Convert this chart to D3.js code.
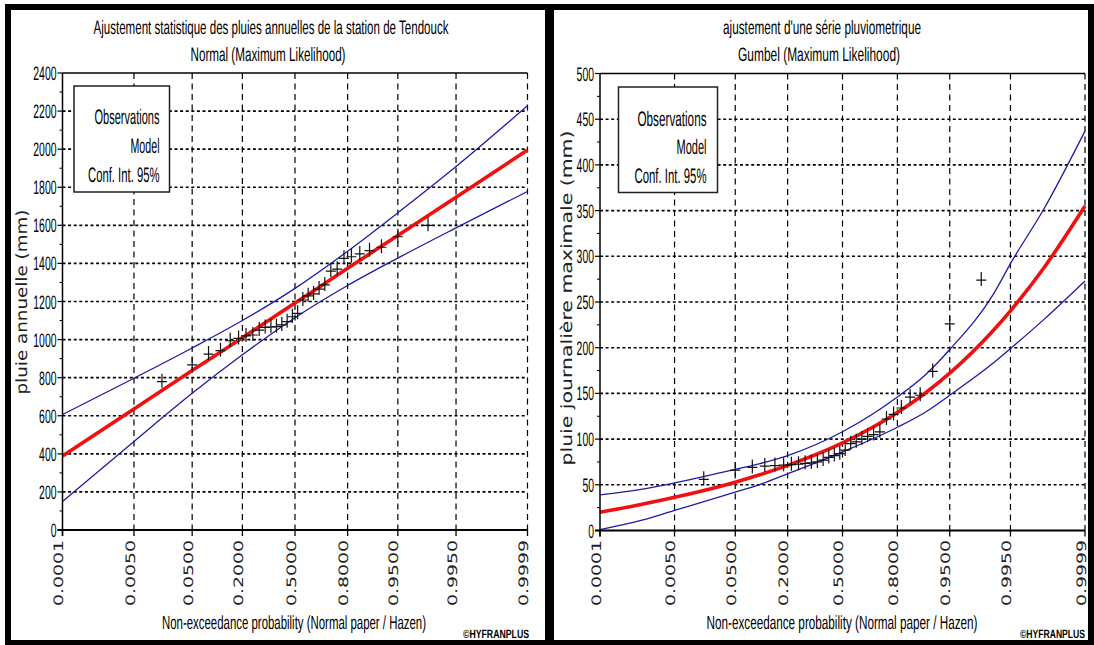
<!DOCTYPE html>
<html>
<head>
<meta charset="utf-8">
<script src="https://cdn.jsdelivr.net/npm/d3@7"></script>
<style>
  body { margin: 0; background: #fff; }
  svg { display: block; }
  text { text-rendering: geometricPrecision; }
</style>
</head>
<body>
<svg id="chart" width="1094" height="645"></svg>
<script>
// ---- Probability paper (shared by both charts) ----
const probTicks = [0.0001, 0.005, 0.05, 0.2, 0.5, 0.8, 0.95, 0.995, 0.9999];
const probTickLabels = ["0.0001", "0.0050", "0.0500", "0.2000", "0.5000", "0.8000", "0.9500", "0.9950", "0.9999"];

// ---- Left chart: annual rainfall, Normal fit ----
const annualTitle = ["Ajustement statistique des pluies annuelles de la station de Tendouck", "Normal (Maximum Likelihood)"];
const annualYLabel = "pluie annuelle (mm)";
const annualYTicks = [0, 200, 400, 600, 800, 1000, 1200, 1400, 1600, 1800, 2000, 2200, 2400];
// sorted observations (mm)
const annualObs = [779, 867, 924, 942, 994, 1006, 1019, 1024, 1050, 1064,
                   1066, 1068, 1077, 1094, 1120, 1138, 1208, 1230, 1240, 1265,
                   1287, 1360, 1370, 1427, 1435, 1450, 1467, 1485, 1540, 1600];
// model and 95% bounds at each probability tick
const annualModel = [389, 636, 837, 1010, 1192, 1374, 1547, 1748, 1995];
const annualUpper = [606, 797, 956, 1100, 1269, 1464, 1666, 1909, 2228];
const annualLower = [150, 465, 718, 920, 1115, 1284, 1428, 1587, 1778];

// ---- Right chart: maximum daily rainfall, Gumbel fit ----
const dailyTitle = ["ajustement d'une série pluviometrique", "Gumbel (Maximum Likelihood)"];
const dailyYLabel = "pluie journalière maximale (mm)";
const dailyYTicks = [0, 50, 100, 150, 200, 250, 300, 350, 400, 450, 500];
const dailyObs = [56, 66, 69, 70.5, 71, 71.5, 72, 72.5, 73.5, 74,
                  75, 77, 80, 82, 84, 88, 95, 97, 100, 103,
                  105, 108, 122, 127, 134, 146, 148, 174, 226, 274];
const dailyCurveProbs = [0.0001, 0.001, 0.005, 0.05, 0.1, 0.2, 0.5, 0.8, 0.9, 0.95, 0.99, 0.995, 0.999, 0.9999];
const dailyModel = [20, 28.5, 36.3, 52.9, 60.7, 71.2, 95.8, 129.1, 151, 172.1, 219.9, 240.3, 287.5, 355];
const dailyUpper = [39, 45, 52, 67, 73, 82, 108, 146, 171, 198, 260, 292, 352, 437];
const dailyLower = [1, 11, 22, 42, 50, 62, 86, 113, 130, 148, 184, 199, 231, 273];

const legendLines = ["Observations", "Model", "Conf. Int. 95%"];
const xTitle = "Non-exceedance probability (Normal paper / Hazen)";
const credit = "©HYFRANPLUS";

// Standard normal quantile (Acklam's rational approximation) for the Normal paper axis
function normInv(p) {
  const a = [-3.969683028665376e+01, 2.209460984245205e+02, -2.759285104469687e+02, 1.383577518672690e+02, -3.066479806614716e+01, 2.506628277459239e+00];
  const b = [-5.447609879822406e+01, 1.615858368580409e+02, -1.556989798598866e+02, 6.680131188771972e+01, -1.328068155288572e+01];
  const c = [-7.784894002430293e-03, -3.223964580411365e-01, -2.400758277161838e+00, -2.549732539343734e+00, 4.374664141464968e+00, 2.938163982698783e+00];
  const d = [7.784695709041462e-03, 3.224671290700398e-01, 2.445134137142996e+00, 3.754408661907416e+00];
  const pl = 0.02425, ph = 1 - pl;
  let q, r;
  if (p < pl) {
    q = Math.sqrt(-2 * Math.log(p));
    return (((((c[0]*q+c[1])*q+c[2])*q+c[3])*q+c[4])*q+c[5]) / ((((d[0]*q+d[1])*q+d[2])*q+d[3])*q+1);
  }
  if (p <= ph) {
    q = p - 0.5; r = q * q;
    return (((((a[0]*r+a[1])*r+a[2])*r+a[3])*r+a[4])*r+a[5])*q / (((((b[0]*r+b[1])*r+b[2])*r+b[3])*r+b[4])*r+1);
  }
  q = Math.sqrt(-2 * Math.log(1 - p));
  return -(((((c[0]*q+c[1])*q+c[2])*q+c[3])*q+c[4])*q+c[5]) / ((((d[0]*q+d[1])*q+d[2])*q+d[3])*q+1);
}

const svg = d3.select("#chart");
const RED = "#f01010", BLUE = "#1c1ca8";
const NARROW = "'Liberation Sans', Arial, sans-serif";
const WIDE = "'DejaVu Sans', Verdana, sans-serif";

// Outer frames
svg.append("rect").attr("x", 0).attr("y", 0).attr("width", 1094).attr("height", 645).attr("fill", "#fff");
const frame = [[5, 4, 1089, 6], [5, 4, 6, 641], [545, 4, 9, 641], [1088, 4, 6, 641], [5, 640, 1089, 5]];
svg.selectAll("rect.frame").data(frame).join("rect").attr("class", "frame")
  .attr("x", d => d[0]).attr("y", d => d[1]).attr("width", d => d[2]).attr("height", d => d[3]).attr("fill", "#000");

// Text squeezed horizontally to a target width (condensed look)
function fitText(g, txt, x, y, o) {
  const t = g.append("text").attr("x", 0).attr("y", 0).text(txt)
    .attr("font-family", o.family || NARROW).attr("font-size", o.size)
    .attr("text-anchor", o.anchor || "middle").attr("fill", o.fill || "#000");
  if (o.weight) t.attr("font-weight", o.weight);
  if (o.dy) t.attr("dy", o.dy);
  const natural = t.node().getComputedTextLength() || 1;
  const sx = o.len ? o.len / natural : 1;
  const rot = o.rotate ? ` rotate(${o.rotate})` : "";
  t.attr("transform", `translate(${x},${y})${rot} scale(${sx},1)`);
  return t;
}

function drawPanel(cfg) {
  const g = svg.append("g");
  const zx = p => normInv(p);
  const x = d3.scaleLinear().domain([zx(probTicks[0]), zx(probTicks[probTicks.length - 1])]).range([cfg.x0, cfg.x1]);
  const y = d3.scaleLinear().domain([0, cfg.yMax]).range([cfg.yBottom, cfg.yTop]);
  const px = p => x(zx(p));

  // titles
  fitText(g, cfg.title[0], cfg.t1.cx, 34, { size: 19.5, len: cfg.t1.w });
  fitText(g, cfg.title[1], cfg.t2.cx, 61, { size: 19.5, len: cfg.t2.w });

  // horizontal dotted grid
  g.append("g").selectAll("line").data(cfg.yTicks.slice(1, -1)).join("line")
    .attr("x1", cfg.x0).attr("x2", cfg.x1).attr("y1", d => y(d)).attr("y2", d => y(d))
    .attr("stroke", "#000").attr("stroke-width", 1.6).attr("stroke-dasharray", "3,2.6");
  // vertical dashed grid
  g.append("g").selectAll("line").data(probTicks.slice(1)).join("line")
    .attr("x1", d => px(d)).attr("x2", d => px(d)).attr("y1", cfg.yTop).attr("y2", cfg.yBottom)
    .attr("stroke", "#000").attr("stroke-width", 1.2).attr("stroke-dasharray", "6,4.5");

  // confidence bounds and model
  const line = d3.line().x(d => px(d[0])).y(d => y(d[1])).curve(d3.curveMonotoneX);
  const probs = cfg.curveProbs;
  [cfg.upper, cfg.lower].forEach(arr => {
    g.append("path").attr("d", line(probs.map((p, i) => [p, arr[i]])))
      .attr("fill", "none").attr("stroke", BLUE).attr("stroke-width", 1.3);
  });
  g.append("path").attr("d", line(probs.map((p, i) => [p, cfg.model[i]])))
    .attr("fill", "none").attr("stroke", RED).attr("stroke-width", 3.6);

  // observations at Hazen plotting positions
  const n = cfg.obs.length;
  const pts = cfg.obs.map((v, i) => [(i + 0.5) / n, v]);
  const marks = g.append("g").attr("stroke", "#111").attr("stroke-width", 1.2);
  marks.selectAll("path").data(pts).join("path")
    .attr("d", d => {
      const cx = px(d[0]), cy = y(d[1]);
      return `M${cx - 5},${cy}H${cx + 5}M${cx},${cy - 8}V${cy + 6}`;
    });

  // axes frame
  g.append("line").attr("x1", cfg.x0).attr("x2", cfg.x1).attr("y1", cfg.yTop).attr("y2", cfg.yTop)
    .attr("stroke", "#000").attr("stroke-width", 1.5);
  g.append("line").attr("x1", cfg.x0).attr("x2", cfg.x0).attr("y1", cfg.yTop).attr("y2", cfg.yBottom + 6)
    .attr("stroke", "#000").attr("stroke-width", 1.5);
  g.append("line").attr("x1", cfg.x0 - 5).attr("x2", cfg.x1).attr("y1", cfg.yBottom).attr("y2", cfg.yBottom)
    .attr("stroke", "#000").attr("stroke-width", 2);

  // y ticks (major + minor)
  g.append("g").selectAll("line").data(cfg.yTicks).join("line")
    .attr("x1", cfg.x0 - 5).attr("x2", cfg.x0).attr("y1", d => y(d)).attr("y2", d => y(d))
    .attr("stroke", "#000").attr("stroke-width", 1.2);
  const step = cfg.yTicks[1] - cfg.yTicks[0];
  g.append("g").selectAll("line").data(cfg.yTicks.slice(0, -1).map(d => d + step / 2)).join("line")
    .attr("x1", cfg.x0 - 3).attr("x2", cfg.x0).attr("y1", d => y(d)).attr("y2", d => y(d))
    .attr("stroke", "#000").attr("stroke-width", 1);
  cfg.yTicks.forEach(v => {
    const s = String(v);
    fitText(g, s, cfg.x0 - 6, y(v), { size: 19.5, anchor: "end", len: 5.8 * s.length, dy: "0.36em" });
  });

  // x ticks and rotated labels
  g.append("g").selectAll("line").data(probTicks).join("line")
    .attr("x1", d => px(d)).attr("x2", d => px(d)).attr("y1", cfg.yBottom).attr("y2", cfg.yBottom + 6)
    .attr("stroke", "#000").attr("stroke-width", 1.3);
  probTicks.forEach((p, i) => {
    fitText(g, probTickLabels[i], px(p), 540, {
      size: 13, family: WIDE, anchor: "end", len: 66, fill: "#222", dy: "0.05em", rotate: -90
    });
  });

  // axis titles
  fitText(g, cfg.yLabel, cfg.yl.x, cfg.yl.y, {
    size: 15.5, family: WIDE, len: cfg.yl.len, fill: "#222", dy: "0.36em", rotate: -90
  });
  fitText(g, xTitle, cfg.xt.cx, 629, { size: 19, len: cfg.xt.w });
  fitText(g, credit, cfg.cr.x, 638, { size: 12, weight: "bold", anchor: "end", len: cfg.cr.w });

  // legend
  const L = cfg.legend;
  g.append("rect").attr("x", L.x).attr("y", L.y).attr("width", L.w).attr("height", L.h)
    .attr("fill", "#fff").attr("stroke", "#222").attr("stroke-width", 1.5);
  legendLines.forEach((t, i) => {
    fitText(g, t, L.tx, L.base[i], { size: 21, anchor: "end", len: L.lens[i] });
  });
}

drawPanel({
  title: annualTitle, t1: { cx: 271, w: 355 }, t2: { cx: 268, w: 155 },
  x0: 62.5, x1: 527.5, yTop: 73, yBottom: 530, yMax: 2400, yTicks: annualYTicks,
  obs: annualObs, curveProbs: probTicks, model: annualModel, upper: annualUpper, lower: annualLower,
  yLabel: annualYLabel, yl: { x: 21, y: 302, len: 185 },
  xt: { cx: 294, w: 264 }, cr: { x: 529, w: 66 },
  legend: { x: 74, y: 86, w: 95.5, h: 106, tx: 159.5, base: [124, 152.5, 181.5], lens: [65, 29, 71.5] }
});

drawPanel({
  title: dailyTitle, t1: { cx: 822, w: 198 }, t2: { cx: 819, w: 162 },
  x0: 600, x1: 1085, yTop: 73.5, yBottom: 530.5, yMax: 500, yTicks: dailyYTicks,
  obs: dailyObs, curveProbs: dailyCurveProbs, model: dailyModel, upper: dailyUpper, lower: dailyLower,
  yLabel: dailyYLabel, yl: { x: 566, y: 298, len: 335 },
  xt: { cx: 842, w: 271 }, cr: { x: 1085, w: 65 },
  legend: { x: 618.5, y: 87, w: 99, h: 105.5, tx: 706.5, base: [125.5, 154, 182.5], lens: [69, 30, 72] }
});
</script>
</body>
</html>
